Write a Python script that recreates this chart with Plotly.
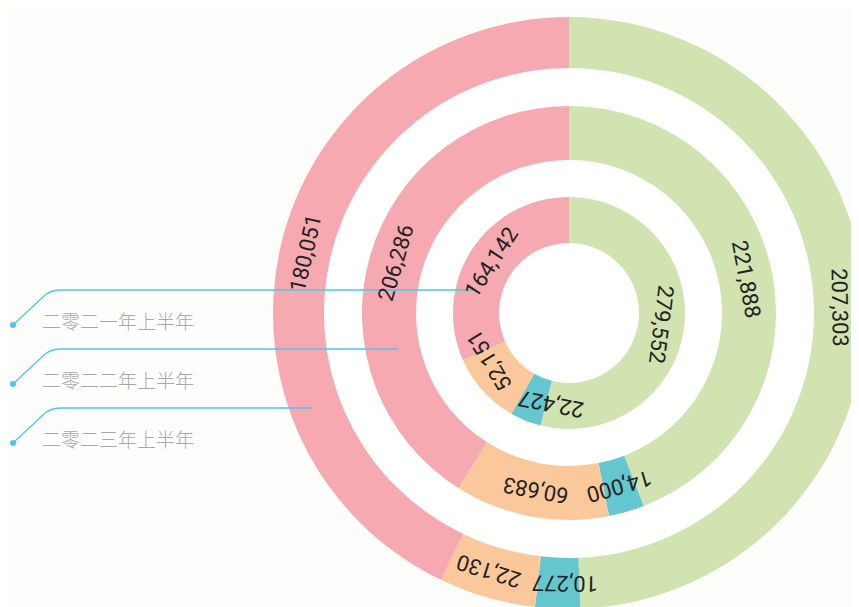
import math
import plotly.graph_objects as go

# ---- data ----
categories = ["类别一", "类别二", "类别三", "类别四"]
series_names = ["二零二一年上半年", "二零二二年上半年", "二零二三年上半年"]
values_2021 = [279552, 22427, 52151, 164142]
values_2022 = [221888, 14000, 60683, 206286]
values_2023 = [207303, 10277, 22130, 180051]
slice_colors = ["#d0e3b0", "#64c7cf", "#fbc89b", "#f6a9b0"]

# ---- layout geometry (page pixels) ----
OFF = 8                 # page body margin
WF, HF = 880, 640       # figure size (overflow beyond the viewport is clipped)
CX, CY = 569, 313       # ring centre on page
rings = [  # (values, inner radius, outer radius)
    (values_2021, 70, 116),
    (values_2022, 153, 207),
    (values_2023, 245, 296),
]


def domain(r):
    cx, cy = CX - OFF, CY - OFF
    return dict(x=[max(0.0, (cx - r) / WF), min(1.0, (cx + r) / WF)],
                y=[max(0.0, (HF - cy - r) / HF), min(1.0, (HF - cy + r) / HF)])


def text_width(s, size=22):
    return sum(0.25 * size if ch == "," else 0.562 * size for ch in s)


def spread(mids_deg, widths, radius, gap=10, iters=200):
    """Push overlapping labels apart along the arc."""
    s = [m / 360 * 2 * math.pi * radius for m in mids_deg]
    circ = 2 * math.pi * radius
    n = len(s)
    for _ in range(iters):
        moved = False
        for i in range(n):
            j = (i + 1) % n
            sj = s[j] + (circ if j == 0 else 0)
            need = (widths[i] + widths[j]) / 2 + gap
            d = sj - s[i]
            if d < need:
                push = (need - d) / 2
                s[i] -= push
                s[j] += push
                moved = True
        if not moved:
            break
    return [v / (2 * math.pi * radius) * 360 for v in s]


fig = go.Figure()

# white disc behind the rings
fig.add_trace(go.Pie(values=[1], marker=dict(colors=["#ffffff"], line=dict(width=0)),
                     domain=domain(rings[-1][2]), textinfo="none", hoverinfo="skip",
                     sort=False, showlegend=False))

annotations = []
for name, (vals, r0, r1) in zip(series_names, rings):
    fig.add_trace(go.Pie(
        values=vals, labels=categories, name=name,
        hole=r0 / r1, domain=domain(r1), sort=False, direction="clockwise",
        rotation=0, textinfo="none",
        marker=dict(colors=slice_colors, line=dict(width=0)),
        showlegend=False,
    ))
    total = sum(vals)
    cum = 0
    mids = []
    for v in vals:
        mids.append((cum + v / 2) / total * 360)
        cum += v
    texts = [f"{v:,}" for v in vals]
    rm = (r0 + r1) / 2
    angles = spread(mids, [text_width(t) for t in texts], rm)
    for t, ang_deg in zip(texts, angles):
        a = math.radians(ang_deg)
        ang = ang_deg % 360
        ang = ang if ang <= 180 else ang - 360
        annotations.append(dict(
            x=CX + rm * math.sin(a), y=CY - rm * math.cos(a), xref="x", yref="y",
            text=t, showarrow=False, textangle=ang,
            xanchor="center", yanchor="middle",
            font=dict(family="Roboto, sans-serif", size=22, color="#222222"),
        ))

# left legend-style leader lines
leader_y = [290, 349, 408]
leader_end = [473, 398, 312]
label_y = [320, 379, 438]
line_color = "#52c3f1"
shapes = []
dot_x, dot_y = [], []
for ly, ey, ex in zip(label_y, leader_y, leader_end):
    sy = ly + 5
    path = f"M 13 {sy} L 43 {ey + 7} Q 50 {ey} 60 {ey} L {ex} {ey}"
    shapes.append(dict(type="path", path=path, xref="x", yref="y",
                       line=dict(color=line_color, width=1.3)))
    dot_x += [13, ex]
    dot_y += [sy, ey]

for name, ty in zip(series_names, label_y):
    annotations.append(dict(
        x=40, y=ty, xref="x", yref="y", text=name, showarrow=False,
        xanchor="left", yanchor="middle",
        font=dict(family="Noto Sans CJK SC, sans-serif", size=19, color="#a8a8a8",
                  weight=300),
    ))

fig.add_trace(go.Scatter(x=dot_x, y=dot_y, mode="markers",
                         marker=dict(color=line_color, size=6),
                         hoverinfo="skip", showlegend=False))

fig.update_layout(
    width=WF, height=HF,
    margin=dict(l=0, r=0, t=0, b=0),
    paper_bgcolor="#fdfdfb", plot_bgcolor="rgba(0,0,0,0)",
    xaxis=dict(range=[OFF, OFF + WF], visible=False, fixedrange=True),
    yaxis=dict(range=[OFF + HF, OFF], visible=False, fixedrange=True),
    shapes=shapes, annotations=annotations,
    showlegend=False,
)

fig.write_html("out.html")
